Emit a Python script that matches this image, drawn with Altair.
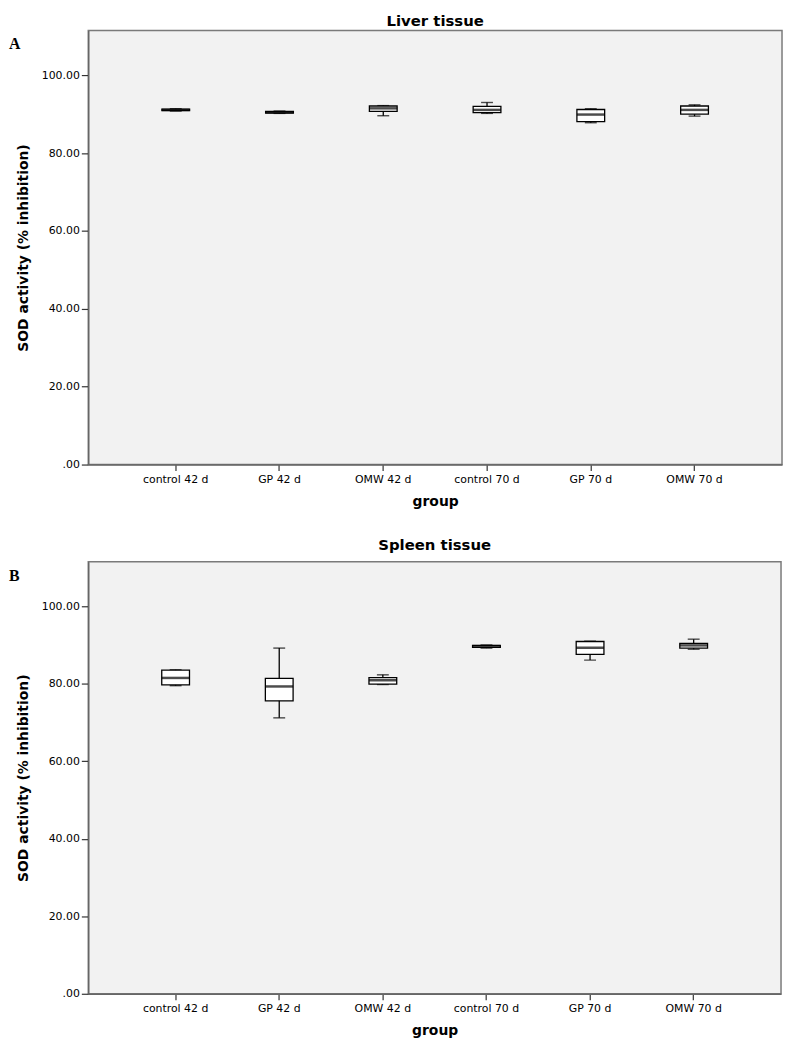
import altair as alt
import pandas as pd

groups = ["control 42 d", "GP 42 d", "OMW 42 d", "control 70 d", "GP 70 d", "OMW 70 d"]

liver_min = [90.8, 90.2, 89.6, 90.2, 87.8, 89.5]
liver_q1 = [90.9, 90.3, 90.7, 90.4, 88.1, 90.0]
liver_med = [91.1, 90.5, 91.5, 91.1, 89.9, 91.1]
liver_q3 = [91.3, 90.7, 92.1, 92.0, 91.2, 92.1]
liver_max = [91.4, 90.8, 92.2, 93.0, 91.4, 92.4]

spleen_min = [79.5, 71.2, 79.8, 89.2, 86.1, 88.9]
spleen_q1 = [79.7, 75.6, 79.9, 89.4, 87.6, 89.2]
spleen_med = [81.5, 79.3, 80.9, 89.7, 89.3, 89.9]
spleen_q3 = [83.5, 81.4, 81.6, 89.9, 90.9, 90.4]
spleen_max = [83.6, 89.2, 82.3, 90.0, 91.0, 91.5]

y_ticks = [0, 20, 40, 60, 80, 100]
FONT = "DejaVu Sans"


def panel(title, letter, mins, q1s, meds, q3s, maxs, w, h, title_offset):
    df = pd.DataFrame({"group": groups, "mn": mins, "q1": q1s, "med": meds, "q3": q3s, "mx": maxs})
    x = alt.X("group:N", sort=groups,
              scale=alt.Scale(paddingInner=0, paddingOuter=0.343),
              axis=alt.Axis(title="group", labelAngle=0, tickSize=6, labelPadding=3,
                            titlePadding=10, titleFontSize=14, titleFontWeight="bold"))
    yscale = alt.Scale(domain=[0, 111.5], nice=False, zero=False)
    y_axis = alt.Axis(title="SOD activity (% inhibition)", values=y_ticks, tickSize=7, labelPadding=2,
                      grid=False, titlePadding=11, titleFontSize=14, titleFontWeight="bold",
                      labelExpr="datum.value == 0 ? '.00' : format(datum.value, '.2f')")
    base = alt.Chart(df).encode(x=x)
    whisk = base.mark_rule(color="black", strokeWidth=1.3).encode(
        y=alt.Y("mn:Q", scale=yscale, axis=y_axis), y2="mx:Q")
    cap_lo = base.mark_tick(color="black", size=12, thickness=1.4).encode(y=alt.Y("mn:Q", scale=yscale))
    cap_hi = base.mark_tick(color="black", size=12, thickness=1.4).encode(y=alt.Y("mx:Q", scale=yscale))
    box = base.mark_bar(size=28, fill="white", stroke="black", strokeWidth=1.3).encode(
        y=alt.Y("q1:Q", scale=yscale), y2="q3:Q")
    med = base.mark_tick(color="black", size=28, thickness=2.5).encode(y=alt.Y("med:Q", scale=yscale))
    lab = alt.Chart(pd.DataFrame({"t": [letter]})).mark_text(
        font="Liberation Serif", fontSize=16, fontWeight="bold", align="left", baseline="middle",
        color="black").encode(text="t:N", x=alt.value(-80), y=alt.value(14))
    return alt.layer(whisk, cap_lo, cap_hi, box, med, lab).properties(
        width=w, height=h,
        title=alt.TitleParams(title, fontSize=15, fontWeight="bold", font=FONT, offset=title_offset,
                              anchor="middle", frame="group", color="black"))


A = panel("Liver tissue", "A", liver_min, liver_q1, liver_med, liver_q3, liver_max, 700, 438, 2)
B = panel("Spleen tissue", "B", spleen_min, spleen_q1, spleen_med, spleen_q3, spleen_max, 699, 436, 9)

chart = alt.vconcat(A, B, spacing=28).properties(padding=0).configure_view(
    fill="#f2f2f2", stroke="#7a7a7a", strokeWidth=1.5
).configure_axis(
    labelFont=FONT, labelFontSize=11, labelColor="black", titleFont=FONT, titleColor="black",
    domainColor="#666666", domainWidth=1.5, tickColor="#333333", tickWidth=1.2
)

chart.save("out.html", embed_options={"renderer": "svg", "actions": False})
